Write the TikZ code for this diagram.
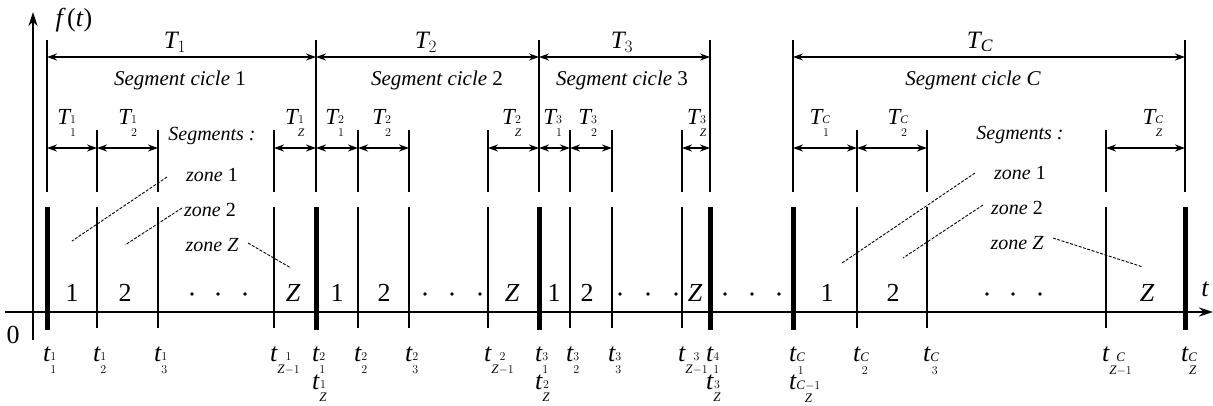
\documentclass[tikz,border=0pt]{standalone}
\usepackage{amsmath}
\usepackage{fontspec}
\setmainfont{Liberation Serif}
\usetikzlibrary{arrows.meta}
\newcommand\mZ{\mathit{Z}}
\newcommand\mC{\mathit{C}}
\newcommand\mZm{\mathit{Z}{-}1}
\newcommand\stk[2]{_{\substack{\scriptscriptstyle #1\\\scriptscriptstyle #2}}}
\begin{document}
\begin{tikzpicture}[x=1pt,y=-1pt,
  axis/.style={line width=2.6pt},
  bnd/.style={line width=5pt},
  thn/.style={line width=1.6pt},
  dim/.style={line width=1.9pt,{Stealth[length=10pt,width=7pt]}-{Stealth[length=10pt,width=7pt]}},
  lead/.style={line width=0.9pt,dash pattern=on 3pt off 1.5pt},
  big/.style={font=\fontsize{25}{27}\selectfont,inner sep=0pt},
  cyc/.style={font=\fontsize{21}{23}\selectfont,inner sep=0pt},
  sub/.style={font=\fontsize{23}{25}\selectfont,inner sep=0pt},
  zn/.style={font=\fontsize{20}{22}\selectfont\itshape,inner sep=0pt},
  num/.style={font=\fontsize{26}{28}\selectfont,inner sep=0pt},
  tl/.style={font=\fontsize{26}{28}\selectfont,inner sep=0pt,anchor=base west}]
\useasboundingbox (0,0) rectangle (1213,405);
% axes
\coordinate (yb) at (33,340); \coordinate (yt) at (33,12);
\draw[axis,-{Stealth[length=14pt,width=9pt]}] (yb) -- (yt);
\coordinate (xl) at (5,312); \coordinate (xr) at (1213,312);
\draw[axis,-{Stealth[length=14pt,width=9pt]}] (xl) -- (xr);
\node[num] (zero) at (13,335) {0};
\node[num,font=\fontsize{26}{28}\selectfont\itshape] (tax) at (1205,289) {t};
\node[big,font=\fontsize{26}{28}\selectfont] (fy) at (74,20) {\textit{f\,}(\textit{t})};
% cycle boundaries
\foreach \x in {47,316,539,710,793,1185}{
  \coordinate (ba\x) at (\x,40); \coordinate (bb\x) at (\x,192);
  \coordinate (bc\x) at (\x,207); \coordinate (bd\x) at (\x,330);
  \coordinate (A\x) at (\x,57); \coordinate (s\x) at (\x,148);
  \draw[thn] (ba\x) -- (bb\x);
  \draw[bnd] (bc\x) -- (bd\x);
}
% inner segment lines
\foreach \x in {97,158,274,358,409,488,570,612,682,857,927,1106}{
  \coordinate (ia\x) at (\x,130); \coordinate (ib\x) at (\x,192);
  \coordinate (ic\x) at (\x,207); \coordinate (id\x) at (\x,328);
  \coordinate (s\x) at (\x,148);
  \draw[thn] (ia\x) -- (ib\x);
  \draw[thn] (ic\x) -- (id\x);
}
% cycle arrows
\draw[dim] (A47) -- (A316);
\draw[dim] (A316) -- (A539);
\draw[dim] (A539) -- (A710);
\draw[dim] (A793) -- (A1185);
\node[big] (T1) at (175,42) {$\mathit{T}_{1}$};
\node[big] (T2) at (426,42) {$\mathit{T}_{2}$};
\node[big] (T3) at (622,42) {$\mathit{T}_{3}$};
\node[big] (TC) at (980,42) {$\mathit{T}_{\mC}$};
\node[cyc] (sc1) at (180,80) {\textit{Segment cicle} 1};
\node[cyc] (sc2) at (437,80) {\textit{Segment cicle} 2};
\node[cyc] (sc3) at (622,80) {\textit{Segment cicle} 3};
\node[cyc] (scC) at (973,80) {\textit{Segment cicle C}};
% segment arrows
\foreach \a/\b in {47/97,97/158,274/316,316/358,358/409,488/539,539/570,570/612,682/710,793/857,857/927,1106/1185}
  \draw[dim] (s\a) -- (s\b);
\foreach \x/\c/\s in {67/1/1,128/1/2,295/1/\mZ,335/2/1,382/2/2,512/2/\mZ,553/3/1,588/3/2,697/3/\mZ,820/\mC/1,898/\mC/2,1153/\mC/\mZ}
  \node[sub] (T\x) at (\x,123) {$\mathit{T}\stk{\c}{\s}$};
% segment texts
\node[zn] (seg1) at (212,136) {Segments :};
\node[zn] (segC) at (1020,135) {Segments :};
\node[zn] (za1) at (212,175) {zone \upshape 1};
\node[zn] (za2) at (210,210) {zone \upshape 2};
\node[zn] (zaZ) at (212,245) {zone Z};
\node[zn] (zc1) at (1020,173) {zone \upshape 1};
\node[zn] (zc2) at (1017,208) {zone \upshape 2};
\node[zn] (zcZ) at (1017,243) {zone Z};
\coordinate (la1) at (72,241);  \coordinate (la1s) at (167,177);
\coordinate (la2) at (125,245); \coordinate (la2s) at (182,208);
\coordinate (laZ) at (291,268); \coordinate (laZs) at (248,243);
\coordinate (lc1) at (842,263); \coordinate (lc1s) at (975,173);
\coordinate (lc2) at (903,258); \coordinate (lc2s) at (983,205);
\coordinate (lcZ) at (1143,267);\coordinate (lcZs) at (1053,238);
\draw[lead] (la1s) -- (la1);
\draw[lead] (la2s) -- (la2);
\draw[lead] (laZs) -- (laZ);
\draw[lead] (lc1s) -- (lc1);
\draw[lead] (lc2s) -- (lc2);
\draw[lead] (lcZs) -- (lcZ);
% numbers in segments
\foreach \x/\n in {72/1,125/2,337/1,384/2,554/1,587/2,827/1,893/2}
  \node[num] (n\x) at (\x,293) {\n};
\foreach \x in {293,512,695,1147}
  \node[num,font=\fontsize{26}{28}\selectfont\itshape] (z\x) at (\x,293) {Z};
\foreach \x in {192,218,245,425,452,480,620,648,676,725,752,779,987,1013,1040}
  \fill (\x,294) circle (1.8pt);
% time labels
\foreach \x/\a/\b in {47/1/1,97/1/2,158/1/3,274/1/\mZm,316/2/1,358/2/2,409/2/3,488/2/\mZm,539/3/1,570/3/2,612/3/3,682/3/\mZm,710/4/1,793/\mC/1,857/\mC/2,927/\mC/3,1106/\mC/\mZm,1185/\mC/\mZ}
  \node[tl] (t\x) at (\x-4,361) {$\mathit{t}\stk{\a}{\b}$};
\foreach \x/\a/\b in {316/1/\mZ,539/2/\mZ,710/3/\mZ,793/\mC{-}1/\mZ}
  \node[tl] (u\x) at (\x-4,389) {$\mathit{t}\stk{\a}{\b}$};
\end{tikzpicture}
\end{document}
